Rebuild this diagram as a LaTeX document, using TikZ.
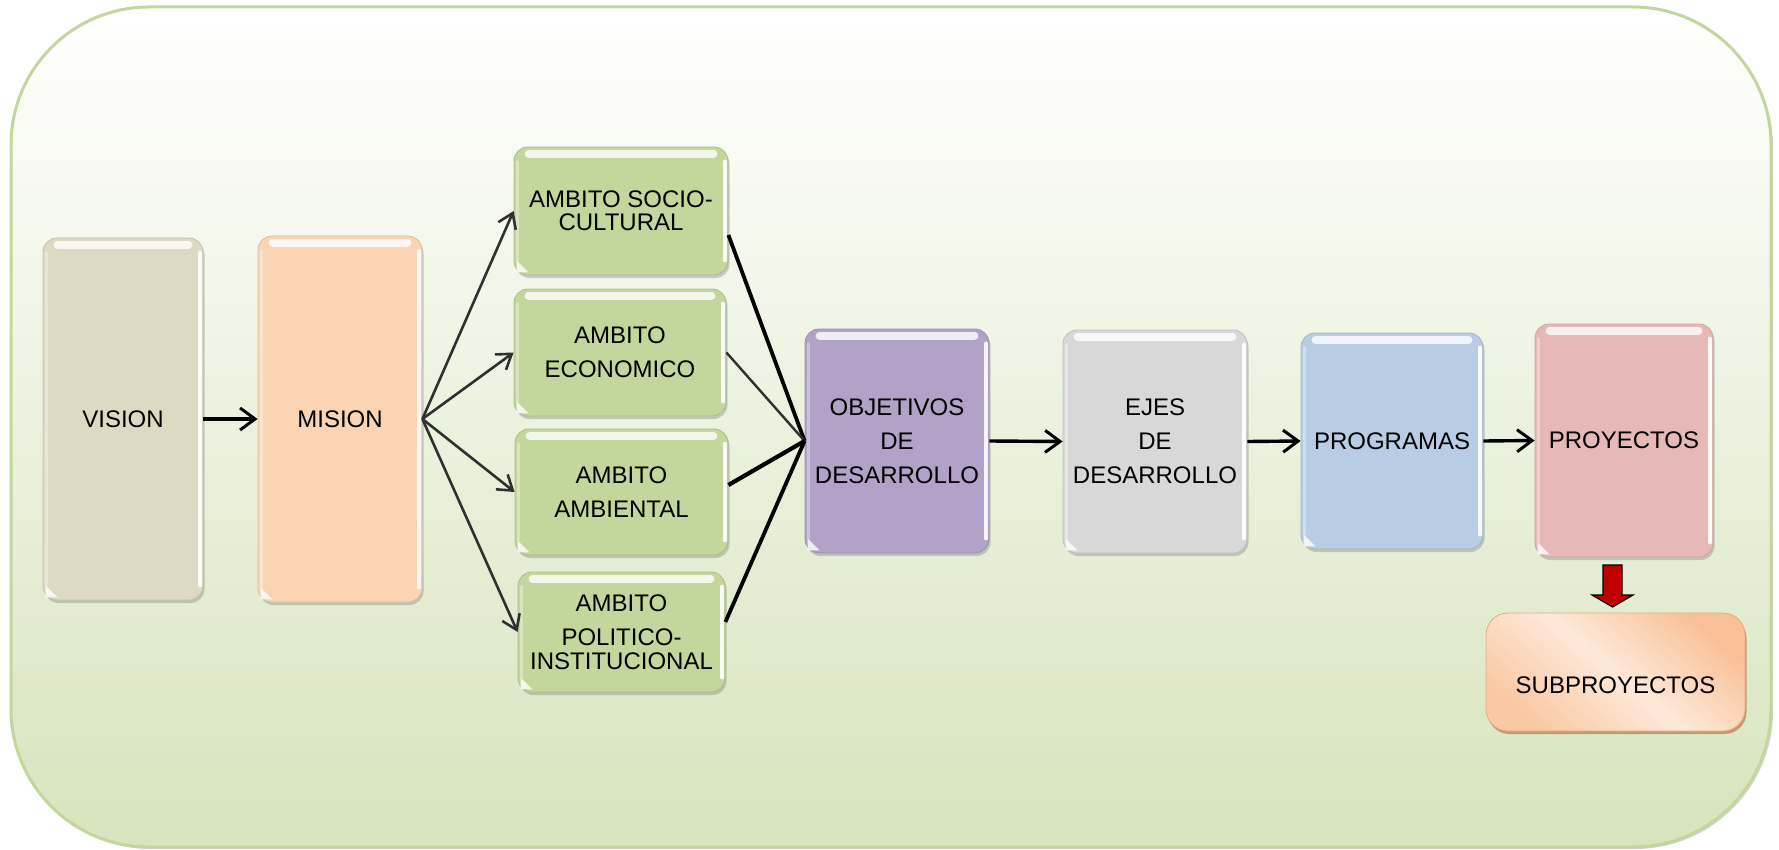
\documentclass[tikz,border=0pt]{standalone}
\usepackage{fontspec}
\setmainfont{Liberation Sans}
\usetikzlibrary{arrows.meta,shadows}
\definecolor{framec}{HTML}{C3D69B}
\definecolor{framebot}{HTML}{D7E4BD}
\definecolor{cvision}{HTML}{DDD9C3}
\definecolor{cmision}{HTML}{FBD4B4}
\definecolor{cambito}{HTML}{C3D69B}
\definecolor{cobj}{HTML}{B2A2C7}
\definecolor{cejes}{HTML}{D8D8D8}
\definecolor{cprog}{HTML}{B8CCE4}
\definecolor{cproy}{HTML}{E6B8B7}
\definecolor{csubA}{HTML}{F9C096}
\definecolor{csubB}{HTML}{FDE9DA}
\definecolor{csubsh}{HTML}{C49A6C}
\definecolor{credarr}{HTML}{C00000}
\definecolor{cfan}{HTML}{303030}
\newcommand\glossbox[1]{%
  \draw[white, line width=8pt, line cap=round, opacity=.8]
    ([xshift=15pt,yshift=-7pt]#1.north west) -- ([xshift=-15pt,yshift=-7pt]#1.north east);
  \draw[white, line width=4pt, line cap=round, opacity=.9]
    ([xshift=-3.5pt,yshift=-15pt]#1.north east) -- ([xshift=-3.5pt,yshift=15pt]#1.south east);
  \draw[white, line width=3pt, line cap=round, opacity=.35]
    ([xshift=4pt,yshift=-15pt]#1.north west) -- ([xshift=4pt,yshift=15pt]#1.south west);
  \fill[white, opacity=.8] ([xshift=3pt,yshift=3pt]#1.south west) ++(0,-12) -- ++(0,12) -- ++(12,0) -- cycle;
}
\begin{document}
\begin{tikzpicture}[x=1pt,y=-1pt,
  boxbase/.style={rounded corners=14pt, inner sep=0pt, align=center,
    font=\fontsize{24}{34}\selectfont,
    drop shadow={shadow xshift=1.5pt, shadow yshift=-3pt, opacity=.3, fill=black!60}},
  visionbox/.style={boxbase, fill=cvision, draw=cvision!88!black, line width=.8pt},
  misionbox/.style={boxbase, fill=cmision, draw=cmision!88!black, line width=.8pt},
  ambitobox/.style={boxbase, fill=cambito, draw=cambito!88!black, line width=.8pt},
  objbox/.style={boxbase, fill=cobj, draw=cobj!88!black, line width=.8pt},
  ejesbox/.style={boxbase, fill=cejes, draw=cejes!88!black, line width=.8pt},
  progbox/.style={boxbase, fill=cprog, draw=cprog!88!black, line width=.8pt},
  proybox/.style={boxbase, fill=cproy, draw=cproy!88!black, line width=.8pt},
  subbox/.style={rounded corners=22pt, inner sep=0pt,
    top color=csubA, bottom color=csubA!80!csubB, middle color=csubB, shading angle=-40,
    draw=csubA!90!black, line width=.8pt,
    drop shadow={shadow xshift=1.5pt, shadow yshift=-3pt, opacity=1, fill=csubsh}},
  mainarr/.style={line width=3.4pt, -{Straight Barb[length=15pt,width=22pt,line width=3pt]}},
  fanarr/.style={cfan, line width=2.6pt, -{Straight Barb[length=14pt,width=19pt,line width=2.6pt]}},
  joinline/.style={black, line width=3.8pt},
]
\useasboundingbox (0,0) rectangle (1779,850);
% background frame
\path[draw=framec, line width=3pt, rounded corners=138pt,
  top color=white, bottom color=framebot,
  drop shadow={shadow xshift=2pt, shadow yshift=-2pt, opacity=.35, fill=black!50}]
  (11,7) rectangle (1771,847);

% nodes
\node[visionbox, minimum width=160pt, minimum height=362pt] (vision) at (123,419) {VISION};
\node[misionbox, minimum width=164pt, minimum height=366pt] (mision) at (340,419) {MISION};
\node[ambitobox, minimum width=214pt, minimum height=128pt] (socio) at (621,211)
  {AMBITO SOCIO-\\[-11pt]CULTURAL};
\node[ambitobox, minimum width=212pt, minimum height=127pt] (econ) at (620,352.5)
  {AMBITO\\ECONOMICO};
\node[ambitobox, minimum width=213pt, minimum height=126pt] (amb) at (621.5,492)
  {AMBITO\\AMBIENTAL};
\node[ambitobox, minimum width=207pt, minimum height=120pt] (pol) at (621.5,632)
  {AMBITO\\POLITICO-\\[-10pt]INSTITUCIONAL};
\node[objbox, minimum width=184pt, minimum height=224pt] (obj) at (897,441)
  {OBJETIVOS\\DE\\DESARROLLO};
\node[ejesbox, minimum width=184pt, minimum height=223pt] (ejes) at (1155,441.5)
  {EJES\\DE\\DESARROLLO};
\node[progbox, minimum width=182pt, minimum height=216pt] (prog) at (1392,441) {PROGRAMAS};
\node[proybox, minimum width=178pt, minimum height=233pt] (proy) at (1624,440.5) {PROYECTOS};
\node[subbox, minimum width=259pt, minimum height=118pt] (subp) at (1615.5,672) {};
\node[font=\fontsize{24}{34}\selectfont, inner sep=0pt] (subptext) at ([yshift=-13pt]subp.center) {SUBPROYECTOS};

\foreach \n in {vision,mision,socio,econ,amb,pol,obj,ejes,prog,proy}{\glossbox{\n}}

% connectors
\draw[mainarr] (vision.east) -- (mision.west);
\draw[fanarr] (mision.east) -- (socio.west);
\draw[fanarr] (mision.east) -- (econ.west);
\draw[fanarr] (mision.east) -- (amb.west);
\draw[fanarr] (mision.east) -- (pol.west);
\draw[joinline] ([yshift=-24pt]socio.east) -- (obj.west);
\draw[cfan, line width=2.4pt] (econ.east) -- (obj.west);
\draw[joinline, line width=4.2pt] ([yshift=7pt]amb.east) -- (obj.west);
\draw[joinline] ([yshift=10pt]pol.east) -- (obj.west);
\draw[mainarr] (obj.east) -- (ejes.west);
\draw[mainarr] (ejes.east) -- (prog.west);
\draw[mainarr] (prog.east) -- (proy.west);

% red block arrow
\draw[fill=credarr, draw=black, line width=1.2pt, line join=miter]
  (1603,565) -- (1622,565) -- (1622,595) -- (1633,595) -- (1612.5,607)
  -- (1592,595) -- (1603,595) -- cycle;
\end{tikzpicture}
\end{document}
